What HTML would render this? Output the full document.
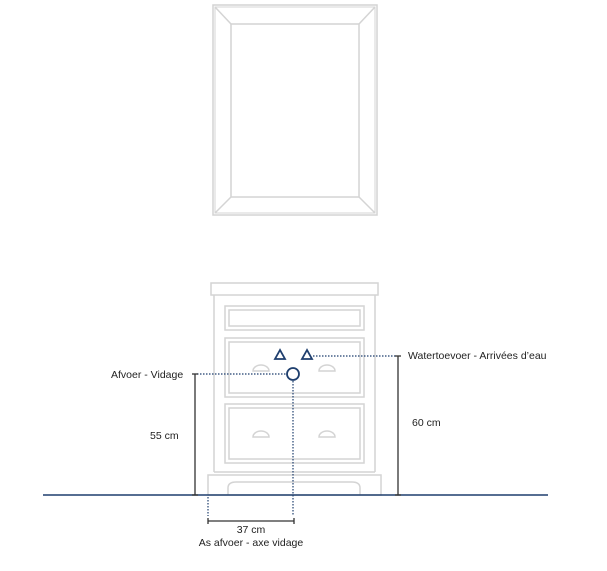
<!DOCTYPE html>
<html><head><meta charset="utf-8"><style>
html,body{margin:0;padding:0;background:#fff;}
svg{display:block;}
text{font-family:"Liberation Sans",sans-serif;font-size:10.5px;fill:#222;}
</style></head><body>
<svg width="607" height="571" viewBox="0 0 607 571">
<g fill="none" stroke="#d4d4d4" stroke-width="1.5">
 <!-- mirror -->
 <rect x="213" y="5" width="164" height="210"/>
 <rect x="215" y="7" width="160" height="206" stroke-width="1"/>
 <rect x="231" y="24" width="128" height="173"/>
 <line x1="215" y1="7" x2="231" y2="24"/><line x1="375" y1="7" x2="359" y2="24"/>
 <line x1="215" y1="213" x2="231" y2="197"/><line x1="375" y1="213" x2="359" y2="197"/>
 <!-- cabinet -->
 <rect x="211" y="283" width="167" height="12"/>
 <line x1="214" y1="295" x2="214" y2="472"/><line x1="375" y1="295" x2="375" y2="472"/>
 <rect x="225" y="306" width="139" height="24"/>
 <rect x="229" y="310" width="131" height="16"/>
 <rect x="225" y="338" width="139" height="59"/>
 <rect x="229" y="342" width="131" height="51"/>
 <rect x="225" y="404" width="139" height="59"/>
 <rect x="229" y="408" width="131" height="51"/>
 <line x1="214" y1="472" x2="375" y2="472"/>
 <rect x="208" y="475" width="173" height="20"/>
 <path d="M228 495 V488 Q228 482 236 482 H352 Q360 482 360 488 V495"/>
 <path d="M253 371 a8 6 0 0 1 16 0 Z M319 371 a8 6 0 0 1 16 0 Z M253 437 a8 6 0 0 1 16 0 Z M319 437 a8 6 0 0 1 16 0 Z"/>
</g>
<!-- ground -->
<line x1="43" y1="495" x2="548" y2="495" stroke="#1f3f6e" stroke-width="1.5"/>
<!-- markers -->
<g fill="none" stroke="#1f3f6e" stroke-width="1.8">
 <path d="M280 350 L275 359 L285 359 Z"/>
 <path d="M307 350 L302 359 L312 359 Z"/>
 <circle cx="293" cy="374" r="6"/>
</g>
<g stroke="#1f3f6e" stroke-width="1.2" stroke-dasharray="1.5 1.5" fill="none">
 <line x1="197" y1="374" x2="286" y2="374"/>
 <line x1="313" y1="356" x2="396" y2="356"/>
 <line x1="293" y1="381" x2="293" y2="516"/>
 <line x1="208" y1="497" x2="208" y2="516"/>
</g>
<g stroke="#333" stroke-width="1.3">
 <line x1="195" y1="374" x2="195" y2="495"/><line x1="192" y1="374" x2="198" y2="374"/><line x1="192" y1="495" x2="198" y2="495"/>
 <line x1="398" y1="356" x2="398" y2="495"/><line x1="395" y1="356" x2="401" y2="356"/><line x1="395" y1="495" x2="401" y2="495"/>
 <line x1="208" y1="521" x2="294" y2="521"/><line x1="208" y1="518" x2="208" y2="524"/><line x1="294" y1="518" x2="294" y2="524"/>
</g>
<text x="111" y="378">Afvoer - Vidage</text>
<text x="150" y="439">55 cm</text>
<text x="408" y="359">Watertoevoer - Arrivées d’eau</text>
<text x="412" y="426">60 cm</text>
<text x="251" y="533" text-anchor="middle">37 cm</text>
<text x="251" y="546" text-anchor="middle">As afvoer - axe vidage</text>
</svg>
</body></html>
